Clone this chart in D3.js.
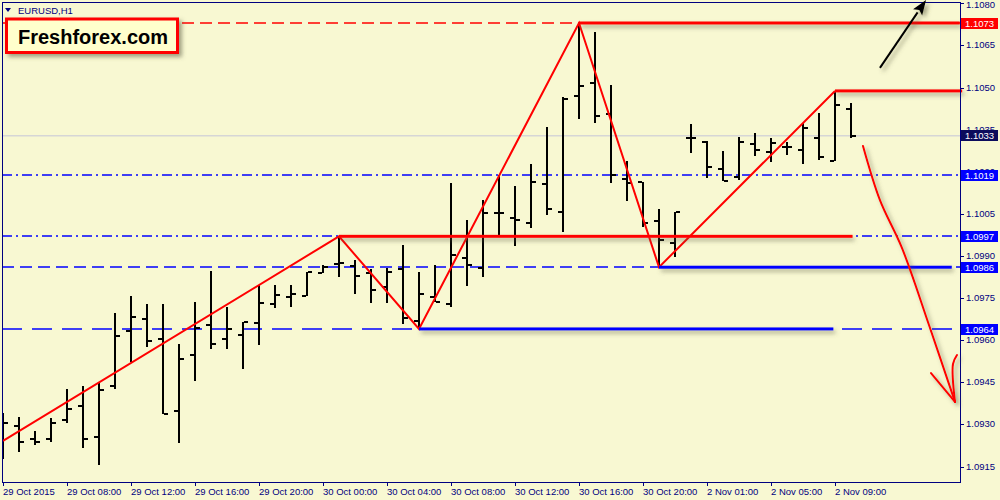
<!DOCTYPE html>
<html><head><meta charset="utf-8">
<script src="https://cdn.jsdelivr.net/npm/d3@7/dist/d3.min.js"></script>
<style>html,body{margin:0;padding:0;background:#f8f8d2;} svg{display:block}</style>
</head><body>
<svg id="c" width="1000" height="500"></svg>
<script>
// ---------- DATA ----------
const symbolLabel = "EURUSD,H1";
const brandLabel = "Freshforex.com";

const barOpen  = [1.09280,1.09295,1.09247,1.09249,1.09315,1.09366,1.09255,1.09437,1.09632,1.09677,
                  1.09605,1.09349,1.09548,1.09655,1.09603,1.09618,1.09660,1.09730,1.09754,1.09757,
                  1.09840,1.09870,1.09865,1.09838,1.09791,1.09855,1.09669,1.09755,1.09729,1.09894,
                  1.09858,1.10052,1.10036,1.10019,1.10156,1.10058,1.10470,1.10517,1.10406,1.10174,
                  1.10165,1.10025,1.09947,1.10321,1.10307,1.10209,1.10180,1.10298,1.10269,1.10289,
                  1.10278,1.10319,1.10239,1.10424];
const barHigh  = [1.09341,1.09326,1.09276,1.09324,1.09425,1.09437,1.09446,1.09696,1.09757,1.09729,
                  1.09729,1.09586,1.09735,1.09846,1.09719,1.09666,1.09797,1.09797,1.09797,1.09844,
                  1.09868,1.09968,1.09886,1.09854,1.09856,1.09939,1.09844,1.09868,1.10161,1.10028,
                  1.10099,1.10188,1.10149,1.10228,1.10361,1.10467,1.10730,1.10697,1.10508,1.10237,
                  1.10165,1.10066,1.10055,1.10369,1.10310,1.10275,1.10325,1.10337,1.10319,1.10307,
                  1.10375,1.10408,1.10488,1.10446];
const barLow   = [1.09177,1.09202,1.09227,1.09236,1.09306,1.09215,1.09154,1.09425,1.09523,1.09575,
                  1.09337,1.09235,1.09456,1.09568,1.09568,1.09496,1.09584,1.09716,1.09717,1.09757,
                  1.09838,1.09826,1.09765,1.09734,1.09734,1.09657,1.09645,1.09737,1.09717,1.09793,
                  1.09826,1.09975,1.09936,1.09999,1.10046,1.09986,1.10387,1.10375,1.10159,1.10097,
                  1.10004,1.09860,1.09897,1.10266,1.10177,1.10168,1.10171,1.10257,1.10236,1.10260,
                  1.10228,1.10242,1.10239,1.10321];
const barClose = [1.09305,1.09237,1.09237,1.09306,1.09356,1.09249,1.09423,1.09615,1.09684,1.09598,
                  1.09337,1.09534,1.09643,1.09586,1.09641,1.09666,1.09734,1.09762,1.09765,1.09844,
                  1.09860,1.09876,1.09829,1.09779,1.09844,1.09680,1.09765,1.09737,1.09903,1.09868,
                  1.10054,1.10054,1.10028,1.10165,1.10067,1.10458,1.10506,1.10399,1.10188,1.10161,
                  1.10019,1.09957,1.10055,1.10321,1.10218,1.10168,1.10307,1.10278,1.10301,1.10289,
                  1.10357,1.10252,1.10438,1.10327];

const timeTickIndex  = [0,4,8,12,16,20,24,28,32,36,40,44,48,52];
const timeTickLabels = ["29 Oct 2015","29 Oct 08:00","29 Oct 12:00","29 Oct 16:00","29 Oct 20:00",
                        "30 Oct 00:00","30 Oct 04:00","30 Oct 08:00","30 Oct 12:00","30 Oct 16:00",
                        "30 Oct 20:00","2 Nov 01:00","2 Nov 05:00","2 Nov 09:00"];
const priceTicks = [1.0915,1.0930,1.0945,1.0960,1.0975,1.0990,1.1005,1.1020,1.1035,1.1050,1.1065,1.1080];

// horizontal level lines (full width) and their axis labels
const levelPrices = [1.1073, 1.1019, 1.0997, 1.0986, 1.0964];
const levelLabels = ["1.1073","1.1019","1.0997","1.0986","1.0964"];
const currentPrice = 1.1033;
const currentLabel = "1.1033";

// zigzag trend line vertices [bar index, price]
const zigzagIndex = [0, 21, 26, 36, 41, 52];
const zigzagPrice = [1.09241, 1.0997, 1.0964, 1.1073, 1.0986, 1.10488];

// horizontal segments (start index, end index, price)
const segStart = [36, 52, 21, 41, 26];
const segEnd   = [59.8, 59.95, 53.1, 59.3, 51.9];
const segPrice = [1.1073, 1.10488, 1.0997, 1.0986, 1.0964];

// arrows [bar index, price]
const upArrowIndex = [54.81, 57.69];
const upArrowPrice = [1.10570, 1.10812];
const downArrowIndex = [53.75, 54.81, 56.19, 57.875, 59.5];
const downArrowPrice = [1.10292, 1.10099, 1.09928, 1.09654, 1.09380];
const barbLeftIndex  = [58.0, 59.5];
const barbLeftPrice  = [1.09483, 1.09380];
const barbRightIndex = [59.625, 59.375, 59.5];
const barbRightPrice = [1.09547, 1.09515, 1.09380];

// ---------- LAYOUT ----------
const plot = {left: 2, right: 960, top: 2, bottom: 482};
const navy = "#000080";
const svg = d3.select("#c");
const x = d3.scaleLinear().domain([0, 53]).range([3, 851]);
const y = d3.scaleLinear().domain([1.0915, 1.1080]).range([466.5, 3.35]);
const fmt = d3.format(".4f");
const FONT = "Liberation Sans, Arial, sans-serif";

const defs = svg.append("defs");
function shadowFilter(id, dx, dy, sd, op){
  const f = defs.append("filter").attr("id",id).attr("filterUnits","userSpaceOnUse")
    .attr("x",-20).attr("y",-20).attr("width",1040).attr("height",540);
  f.append("feDropShadow").attr("dx",dx).attr("dy",dy).attr("stdDeviation",sd)
    .attr("flood-color","#5a5a40").attr("flood-opacity",op);
}
shadowFilter("shadow", 2, 3, 2, 0.5);
shadowFilter("shadow2", 3, 3, 2, 0.55);

svg.append("rect").attr("width",1000).attr("height",500).attr("fill","#f8f8d2");

const clip = defs.append("clipPath").attr("id","plotclip");
clip.append("rect").attr("x",plot.left).attr("y",0).attr("width",plot.right-plot.left+4).attr("height",plot.bottom);

// current price line
svg.append("rect").attr("x",plot.left).attr("y",Math.round(y(currentPrice)))
  .attr("width",plot.right-plot.left).attr("height",1.5).attr("fill","#d6d6d6");

// level lines (dashed)
const levelColors = ["#ff0000","#0000ff","#0000ff","#0000ff","#0000ff"];
const levelDash = ["12,6","10,4,2,4","10,4,2,4","12,6","20,10"];
levelPrices.forEach((p,i)=>{
  const yy = Math.round(y(p));
  svg.append("line").attr("x1",plot.left).attr("x2",plot.right).attr("y1",yy).attr("y2",yy)
    .style("stroke",levelColors[i]).style("stroke-width",1.7).style("stroke-dasharray",levelDash[i]);
});

// OHLC bars
const bars = svg.append("g").attr("clip-path","url(#plotclip)");
d3.range(barOpen.length).forEach(i=>{
  const cx = Math.round(x(i));
  const g = bars.append("g").attr("fill","#000").attr("shape-rendering","crispEdges");
  const yh = y(barHigh[i]), yl = y(barLow[i]);
  g.append("rect").attr("x",cx-1).attr("y",Math.round(yh)).attr("width",2).attr("height",Math.max(2,Math.round(yl)-Math.round(yh)));
  g.append("rect").attr("x",cx-5).attr("y",Math.round(y(barOpen[i]))-1).attr("width",4).attr("height",2);
  g.append("rect").attr("x",cx+1).attr("y",Math.round(y(barClose[i]))-1).attr("width",4).attr("height",2);
});

// zigzag
const zz = zigzagIndex.map((d,i)=>[x(d), y(zigzagPrice[i])]);
svg.append("path").attr("d",d3.line()(zz)).attr("fill","none").attr("stroke","#ff0000").attr("stroke-width",2);

// horizontal segments (drawn as rects with shadow)
const segColors = ["#ff0000","#ff0000","#ff0000","#0000ff","#0000ff"];
segPrice.forEach((p,i)=>{
  svg.append("rect").attr("x",x(segStart[i])).attr("y",y(p)-1.5)
    .attr("width",x(segEnd[i])-x(segStart[i])).attr("height",3)
    .attr("fill",segColors[i]).attr("filter","url(#shadow)");
});

// frame
const frame = svg.append("g").attr("stroke",navy).attr("stroke-width",1).attr("fill","none").attr("shape-rendering","crispEdges");
frame.append("rect").attr("x",plot.left+0.5).attr("y",plot.top+0.5).attr("width",plot.right-plot.left).attr("height",plot.bottom-plot.top);

// y axis ticks
const yAx = svg.append("g");
priceTicks.forEach(p=>{
  const yy = Math.round(y(p));
  yAx.append("line").attr("x1",plot.right).attr("x2",plot.right+4).attr("y1",yy+0.5).attr("y2",yy+0.5).attr("stroke",navy);
  yAx.append("text").attr("x",966).attr("y",Math.max(yy,5)).attr("dy","0.35em").attr("fill",navy)
    .attr("font-family",FONT).attr("font-size",9.5).text(fmt(p));
});

// x axis ticks
const xAx = svg.append("g");
timeTickIndex.forEach((t,i)=>{
  const xx = Math.round(x(t));
  xAx.append("line").attr("x1",xx+0.5).attr("x2",xx+0.5).attr("y1",plot.bottom).attr("y2",plot.bottom+4).attr("stroke",navy);
  xAx.append("text").attr("x",xx).attr("y",495).attr("fill",navy)
    .attr("font-family",FONT).attr("font-size",9.5).text(timeTickLabels[i]);
});

// price labels on axis
const labelBg = ["#ff0000","#0000ff","#0000ff","#0000ff","#0000ff"];
function priceBox(p, txt, bg){
  const yy = Math.round(y(p));
  svg.append("rect").attr("x",961).attr("y",yy-5).attr("width",37).attr("height",11).attr("fill",bg);
  svg.append("text").attr("x",965).attr("y",yy+0.5).attr("dy","0.35em").attr("fill","#ffffff")
    .attr("font-family",FONT).attr("font-size",9.5).text(txt);
}
priceBox(currentPrice, currentLabel, "#0c0c5c");
levelPrices.forEach((p,i)=>priceBox(p, levelLabels[i], labelBg[i]));

// up arrow (black)
{
  const p0 = [x(upArrowIndex[0]), y(upArrowPrice[0])], p1 = [x(upArrowIndex[1]), y(upArrowPrice[1])];
  const ang = Math.atan2(p1[1]-p0[1], p1[0]-p0[0]);
  const L = 15, W = 5.5;
  const bx = p1[0]-L*Math.cos(ang), by = p1[1]-L*Math.sin(ang);
  const g = svg.append("g").attr("filter","url(#shadow2)");
  g.append("line").attr("x1",p0[0]).attr("y1",p0[1]).attr("x2",bx).attr("y2",by).attr("stroke","#000").attr("stroke-width",2);
  const head = [[p1[0],p1[1]],[bx+W*Math.sin(ang), by-W*Math.cos(ang)],[bx+3*Math.cos(ang), by+3*Math.sin(ang)],[bx-W*Math.sin(ang), by+W*Math.cos(ang)]];
  g.append("path").attr("d",d3.line()(head)+"Z").attr("fill","#000");
}

// down arrow (red, hand-drawn)
{
  const g = svg.append("g").attr("filter","url(#shadow2)").attr("fill","none").attr("stroke","#ff0000").attr("stroke-width",2).attr("stroke-linecap","round");
  const ln = d3.line().curve(d3.curveCatmullRom);
  g.append("path").attr("d",ln(downArrowIndex.map((d,i)=>[x(d), y(downArrowPrice[i])])));
  g.append("path").attr("d",ln(barbLeftIndex.map((d,i)=>[x(d), y(barbLeftPrice[i])])));
  g.append("path").attr("d",ln(barbRightIndex.map((d,i)=>[x(d), y(barbRightPrice[i])])));
}

// symbol label
svg.append("path").attr("d","M5,8 L11,8 L8,12 Z").attr("fill",navy);
svg.append("text").attr("x",18).attr("y",14).attr("fill",navy)
  .attr("font-family",FONT).attr("font-size",9.5).text(symbolLabel);

// brand box
svg.append("rect").attr("x",6.5).attr("y",19).attr("width",171).attr("height",33.5)
  .attr("fill","#ffffcc").attr("stroke","#ff0000").attr("stroke-width",3).attr("filter","url(#shadow2)");
svg.append("text").attr("x",18).attr("y",44).attr("fill","#000").attr("font-weight","bold")
  .attr("font-family",FONT).attr("font-size",20).text(brandLabel);
</script>
</body></html>
